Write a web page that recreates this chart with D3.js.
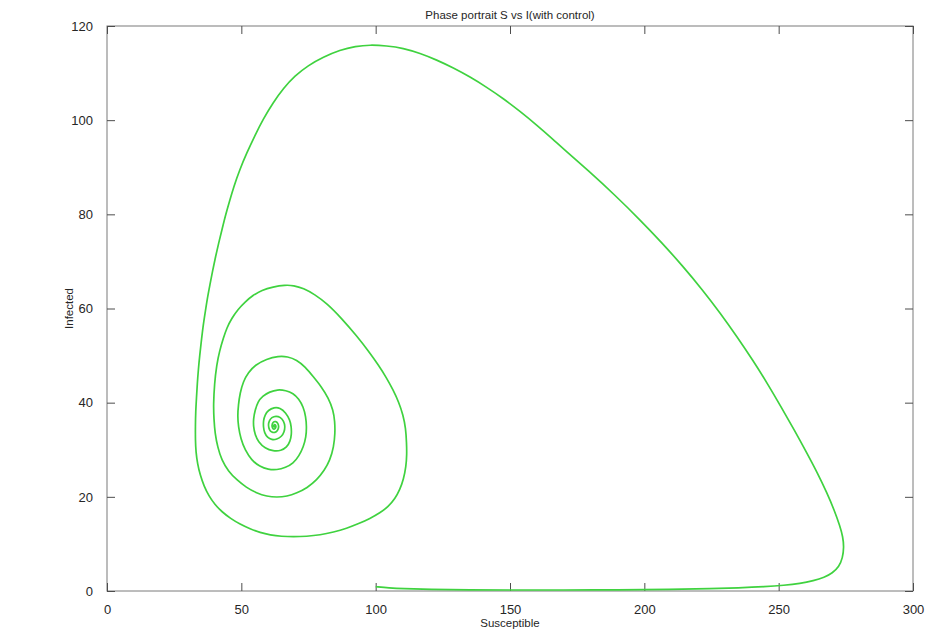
<!DOCTYPE html>
<html>
<head>
<meta charset="utf-8">
<script src="https://cdn.jsdelivr.net/npm/d3@7"></script>
<style>
  html, body { margin: 0; padding: 0; background: #fff; }
  svg text { font-family: "Liberation Sans", Arial, sans-serif; }
</style>
</head>
<body>
<svg id="chart" width="949" height="639"></svg>
<script>
// ---- data ----
const titleText = "Phase portrait S vs I(with control)";
const xLabelText = "Susceptible";
const yLabelText = "Infected";
const xTicks = [0, 50, 100, 150, 200, 250, 300];
const yTicks = [0, 20, 40, 60, 80, 100, 120];

// Susceptible (x) values along the trajectory
const S = [
  // bottom run
  100, 105, 110, 120, 135, 150, 170, 190, 210, 225, 235, 245, 252, 258, 263, 267, 270, 272.5, 273.8, 274.3,
  // big arc, right side up to the peak
  273.9, 272.8, 270.6, 268, 264.4, 260.5, 256, 251, 245.9, 240.4, 234.5, 228.3, 221.6, 214.3, 206.5, 198.1,
  189.2, 179.7, 169.7, 166.1, 159.9, 153.7, 147.5, 141.3, 135.1, 128.9, 122.7, 116.5, 110.3, 104, 97.9,
  // left side down
  92.5, 86.7, 80.5, 74.8, 69.9, 65.7, 61.8, 58.2, 55, 52, 49.4, 47.2, 45.6, 44.2, 42.9, 41.6, 40.4, 39.3,
  38.3, 37.3, 36.5, 35.7, 35.1, 34.5, 34, 33.6, 33.3, 33, 32.9, 32.9, 33.1, 33.7, 34.7, 36.1, 37.9, 40.1,
  42.8, 46, 49.5, 53.3, 57, 60.7, 65, 69.3, 74.3, 79.3, 84.3, 89.2, 93.7, 97.9, 101.6, 104.7, 107.2, 109, 110.4,
  111.3, 111.6, 111.5, 111.2, 110.2, 108.6, 106.5, 104, 101, 97.4, 92.9, 87.5, 81.8, 77.3, 73.1, 69.5, 66.2,
  61.8, 57.6, 54.3, 51.4, 48.7, 46.4, 44.6, 43.3, 41.9, 40.8, 40, 39.6, 39.8, 40.2, 41.2, 42.7, 45.2, 48.3,
  51.8, 55.7, 59.5, 63.2, 67, 70.6, 74.5, 78.1, 80.9, 83, 84.4, 84.9, 84.8, 84.2, 82.4, 79.8, 76.8, 73.8,
  70.6, 67.2, 63.8, 59.4, 55.1, 52.6, 50.7, 49.5, 48.9, 48.6, 48.9, 49.8, 51.4, 53.8, 56.9, 60, 63.2, 66.5,
  69.3, 71.5, 73.1, 74.1, 74.3, 74, 73.1, 71.4, 69.3, 66.6, 63.4, 60.6, 57.8, 56.2, 55.1, 54.5, 54.5, 55.1,
  56.3, 58.8, 61.9, 64.8, 66.9, 68.2, 68.7, 68.6, 68.1, 66.5, 64.4, 62.2, 60, 58.8, 58.2, 58.2, 58.6, 59.7,
  61.3, 63.2, 65, 66, 66.3, 65.8, 64.6, 62.9, 61.3, 60.3, 60, 60.4, 61.3, 62.5, 63.5, 64, 63.7, 62.8, 61.8,
  61.3, 61.6, 62.4, 63, 62.7, 62.1, 62, 62.4, 62.4
];
// Infected (y) values along the trajectory
const I = [
  0.9, 0.65, 0.5, 0.35, 0.25, 0.2, 0.2, 0.25, 0.35, 0.5, 0.65, 0.9, 1.2, 1.6, 2.2, 2.9, 3.8, 5.2, 7, 9.3,
  11.5, 13.8, 17.3, 20.8, 25.1, 29.3, 34, 39, 44, 49, 54, 59, 64, 69, 74, 79,
  84, 89, 94, 95.9, 99, 101.9, 104.6, 107, 109.2, 111.1, 112.8, 114.2, 115.3, 115.8, 116,
  115.7, 114.9, 113.4, 111.6, 109.4, 106.8, 103.7, 100.3, 96.7, 93, 89.5, 85.9, 82.8, 80, 77, 74, 71, 68,
  65, 62, 59, 56, 53, 50, 47, 44, 41, 38, 35, 32, 29.5, 27, 24.6, 22.3, 20.2, 18.4,
  16.8, 15.4, 14.2, 13.2, 12.4, 11.9, 11.6, 11.5, 11.6, 11.9, 12.5, 13.3, 14.3, 15.4, 16.6, 17.9, 19.6, 21.5, 23.8,
  26.4, 29, 31.4, 34.5, 37.4, 40.1, 42.7, 45.3, 48, 50.9, 54.2, 57.8, 61.1, 63, 64.3, 64.9, 65,
  64.6, 63.9, 62.8, 61.4, 59.8, 57.9, 55.9, 53.7, 51, 48, 44, 39.5, 36.5, 33.5, 30.5, 27.8, 25.4, 23.6,
  22, 20.8, 20.1, 19.9, 20.1, 20.8, 21.9, 23.6, 25.6, 27.8, 30.6, 33.5, 36, 38.4, 41, 43.4, 45.5, 47.6,
  49.1, 49.8, 49.9, 49.3, 48, 46.4, 44.5, 42, 39.5, 37.2, 34.9, 32.3, 29.9, 27.8, 26.4, 25.8, 25.7, 26.2,
  27.1, 28.7, 30.6, 32.7, 34.9, 37, 39.1, 40.8, 42, 42.6, 42.8, 42.3, 41.4, 40.2, 38.4, 36.6, 34.9, 33.2,
  31.7, 30.3, 29.7, 29.8, 30.5, 31.8, 33.3, 34.9, 36.3, 37.9, 38.9, 39, 38.4, 37.4, 36.2, 34.8, 33.6, 32.6,
  32.1, 32.2, 32.8, 33.8, 35, 36.1, 36.9, 37.2, 36.9, 36.1, 35.2, 34.2, 33.7, 33.6, 34, 34.8, 35.6, 36.1,
  35.9, 35.2, 34.5, 34.3, 34.8, 35.4, 35.3, 34.9, 34.8, 35.1
];

(function () {
  const svg = d3.select("#chart");
  const mL = 107, mR = 913, mT = 26, mB = 591;
  const x = d3.scaleLinear().domain([0, 300]).range([mL, mR]);
  const y = d3.scaleLinear().domain([0, 120]).range([mB, mT]);
  const axisColor = "#262626";
  const tickLen = 8;

  svg.append("rect")
    .attr("x", mL).attr("y", mT)
    .attr("width", mR - mL).attr("height", mB - mT)
    .attr("fill", "none").attr("stroke", "#7a7a7a").attr("stroke-width", 1);

  function styleAxis(g) {
    g.select(".domain").remove();
    g.selectAll(".tick line").attr("stroke", "#4d4d4d");
    g.selectAll(".tick text").attr("fill", axisColor).attr("font-size", 13);
  }

  svg.append("g").attr("transform", `translate(0,${mB})`)
    .call(d3.axisBottom(x).tickValues(xTicks).tickSizeInner(-tickLen).tickSizeOuter(0).tickPadding(14).tickFormat(d3.format("d")))
    .call(styleAxis);
  svg.append("g").attr("transform", `translate(0,${mT})`)
    .call(d3.axisTop(x).tickValues(xTicks).tickSizeInner(-tickLen).tickSizeOuter(0).tickFormat(""))
    .call(styleAxis);
  svg.append("g").attr("transform", `translate(${mL},0)`)
    .call(d3.axisLeft(y).tickValues(yTicks).tickSizeInner(-tickLen).tickSizeOuter(0).tickPadding(14).tickFormat(d3.format("d")))
    .call(styleAxis);
  svg.append("g").attr("transform", `translate(${mR},0)`)
    .call(d3.axisRight(y).tickValues(yTicks).tickSizeInner(-tickLen).tickSizeOuter(0).tickFormat(""))
    .call(styleAxis);

  const pts = S.map((s, i) => [s, I[i]]);
  const line = d3.line().x(d => x(d[0])).y(d => y(d[1])).curve(d3.curveBasis);
  svg.append("path")
    .datum(pts)
    .attr("d", line)
    .attr("fill", "none")
    .attr("stroke", "#3fd23f")
    .attr("stroke-width", 1.7)
    .attr("stroke-linejoin", "round");

  svg.append("text").attr("x", (mL + mR) / 2).attr("y", 19)
    .attr("text-anchor", "middle").attr("font-size", 11.5).attr("fill", axisColor).text(titleText);
  svg.append("text").attr("x", (mL + mR) / 2).attr("y", 627)
    .attr("text-anchor", "middle").attr("font-size", 11.5).attr("fill", axisColor).text(xLabelText);
  svg.append("text").attr("transform", `translate(73,${(mT + mB) / 2}) rotate(-90)`)
    .attr("text-anchor", "middle").attr("font-size", 11.5).attr("fill", axisColor).text(yLabelText);
})();
</script>
</body>
</html>
